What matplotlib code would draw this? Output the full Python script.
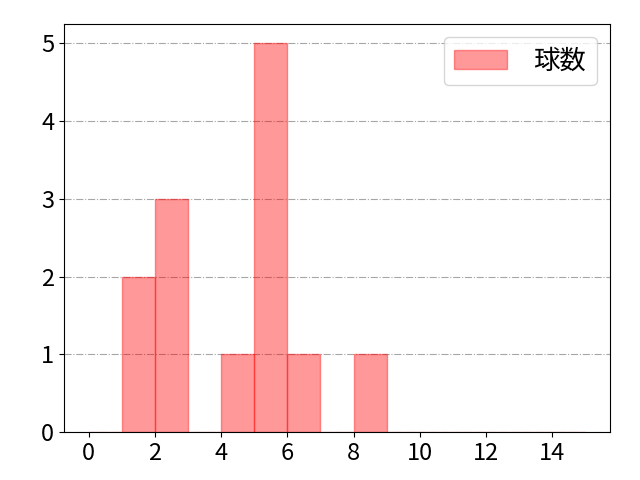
import matplotlib
matplotlib.use("Agg")
import matplotlib.pyplot as plt

plt.rcParams['font.family'] = ['Noto Sans CJK JP', 'DejaVu Sans']

# pitch counts per appearance
Pitches = [1, 1, 2, 2, 2, 4, 5, 5, 5, 5, 5, 6, 8]
Bins = list(range(0, 16))
Label = "球数"

fig, ax = plt.subplots(figsize=(6.4, 4.8), dpi=100)

ax.hist(Pitches, bins=Bins, color="red", alpha=0.4, edgecolor="red",
        linewidth=1, label=Label)

ax.grid(axis="y", linestyle="-.", color="gray", alpha=0.7)
ax.set_axisbelow(True)
ax.set_xticks(range(0, 15, 2))
ax.set_yticks(range(0, 6))
ax.tick_params(labelsize=17)
ax.legend(fontsize=19, loc="upper right", handletextpad=1.0)

fig.subplots_adjust(left=0.1, right=0.953, top=0.95, bottom=0.1)
fig.savefig("out.png", dpi=100)
